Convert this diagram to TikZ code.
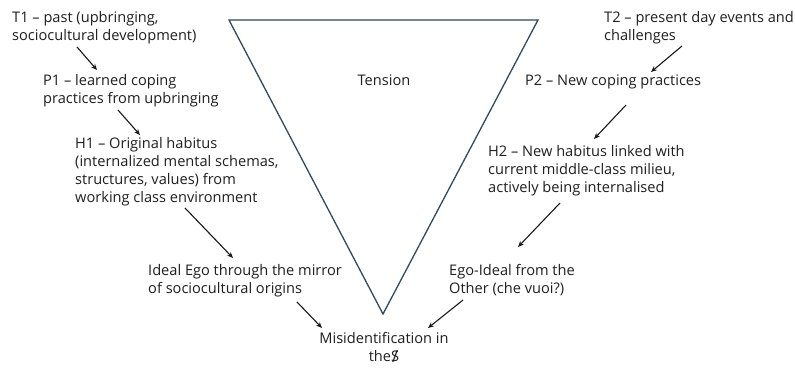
\documentclass[tikz,border=0pt]{standalone}
\usepackage{fontspec}
\setmainfont{Open Sans}
\usetikzlibrary{arrows.meta}
\definecolor{triline}{HTML}{34495A}
\newcommand{\barS}{{\ooalign{S\cr\hidewidth\raisebox{-0.08em}{\scalebox{1.15}{/}}\hidewidth\cr}}}
\begin{document}
\begin{tikzpicture}[x=1pt,y=-1pt,
  label text/.style={anchor=base west, align=left, inner sep=0pt,
    font=\fontsize{14.6}{18}\selectfont, text=black!88},
  arr/.style={draw=black!90, line width=1.1pt, -{Stealth[length=6pt,width=5pt]}},
  tri/.style={draw=triline, line width=1.3pt, line join=miter}]
\useasboundingbox[fill=white] (0,0) rectangle (795,367);

% inverted triangle of tension
\draw[tri] (229,20) coordinate (tl) -- (538,20) coordinate (tr) -- (383,314) coordinate (tb) -- cycle;
\node[label text, anchor=base] (tension) at (384,85) {Tension};

% left column: past (nodes placed by the baseline of their last line)
\node[label text] (t1) at (12,40) {T1 – past (upbringing,\\sociocultural development)};
\node[label text] (p1) at (43,103) {P1 – learned coping\\practices from upbringing};
\node[label text] (h1) at (75,202) {H1 – Original habitus\\(internalized mental schemas,\\structures, values) from\\working class environment};
\node[label text] (ie) at (148,293) {Ideal Ego through the mirror\\of sociocultural origins};

% right column: present
\node[label text] (t2) at (604,40) {T2 – present day events and\\challenges};
\node[label text] (p2) at (525,85) {P2 – New coping practices};
\node[label text] (h2) at (488,192) {H2 – New habitus linked with\\current middle-class milieu,\\actively being internalised};
\node[label text] (ei) at (449,293) {Ego-Ideal from the\\Other (che vuoi?)};

% meeting point
\node[label text, anchor=base, align=center] (mis) at (384,361) {Misidentification in\\the\barS};

% connectors
\draw[arr] ([shift={(65,7)}]t1.base west) -- ([shift={(54,-33)}]p1.base west);
\draw[arr] ([shift={(75,7)}]p1.base west) -- ([shift={(65,-67)}]h1.base west);
\draw[arr] ([shift={(110,6)}]h1.base west) -- ([shift={(85,-35)}]ie.base west);
\draw[arr] ([shift={(149,9)}]ie.base west) -- ([shift={(-62,-33)}]mis.base);
\draw[arr] ([shift={(78,6)}]t2.base west) -- ([shift={(126,-13)}]p2.base west);
\draw[arr] ([shift={(101,20)}]p2.base west) -- ([shift={(106,-53)}]h2.base west);
\draw[arr] ([shift={(72,11)}]h2.base west) -- ([shift={(69,-46)}]ei.base west);
\draw[arr] ([shift={(14,7)}]ei.base west) -- ([shift={(44,-33)}]mis.base);
\end{tikzpicture}
\end{document}
